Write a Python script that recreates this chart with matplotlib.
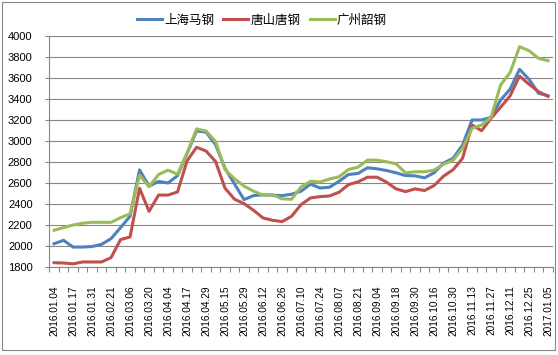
import matplotlib
matplotlib.use("Agg")
import matplotlib.pyplot as plt
import numpy as np
from matplotlib.patches import Rectangle

plt.rcParams['font.family'] = ['Liberation Sans', 'Noto Sans CJK SC', 'DejaVu Sans']

tick_labels = ["2016.01.04", "2016.01.17", "2016.01.31", "2016.02.21", "2016.03.06",
               "2016.03.20", "2016.04.04", "2016.04.17", "2016.04.29", "2016.05.15",
               "2016.05.29", "2016.06.12", "2016.06.26", "2016.07.10", "2016.07.24",
               "2016.08.07", "2016.08.21", "2016.09.04", "2016.09.18", "2016.09.30",
               "2016.10.16", "2016.10.30", "2016.11.13", "2016.11.27", "2016.12.11",
               "2016.12.25", "2017.01.05"]

series_names = ["上海马钢", "唐山唐钢", "广州韶钢"]

shanghai = [2022, 2054, 1990, 1990, 1995, 2016, 2070, 2175, 2283, 2725,
            2570, 2615, 2600, 2670, 2880, 3095, 3085, 2965, 2740, 2590,
            2442, 2480, 2487, 2484, 2480, 2493, 2522, 2589, 2552, 2560,
            2617, 2681, 2691, 2745, 2735, 2719, 2697, 2671, 2668, 2649,
            2697, 2790, 2835, 2962, 3200, 3200, 3225, 3390, 3492, 3683,
            3587, 3454, 3432]

tangshan = [1841, 1838, 1830, 1848, 1848, 1848, 1889, 2061, 2086, 2550,
            2330, 2485, 2485, 2515, 2810, 2940, 2905, 2805, 2550, 2445,
            2404, 2340, 2267, 2245, 2232, 2283, 2394, 2458, 2470, 2477,
            2512, 2585, 2611, 2655, 2655, 2608, 2544, 2518, 2544, 2528,
            2576, 2665, 2726, 2835, 3152, 3098, 3216, 3321, 3429, 3619,
            3540, 3470, 3425]

guangzhou = [2150, 2175, 2200, 2217, 2226, 2225, 2225, 2270, 2306, 2675,
             2565, 2681, 2722, 2684, 2885, 3115, 3095, 2995, 2728, 2640,
             2570, 2522, 2484, 2490, 2449, 2445, 2563, 2617, 2610, 2638,
             2659, 2729, 2751, 2818, 2818, 2802, 2783, 2697, 2707, 2707,
             2722, 2780, 2815, 2930, 3121, 3152, 3225, 3533, 3651, 3898,
             3860, 3787, 3765]

colors = ["#4F81BD", "#C0504D", "#9BBB59"]
grid_c = "#868686"

fig = plt.figure(figsize=(5.58, 3.55), dpi=100)
ax = fig.add_axes([49.3/558, 1-267/355, (552.8-49.3)/558, (267-36)/355])

n = len(shanghai)
x = np.arange(n)
for vals, name, c in zip([shanghai, tangshan, guangzhou], series_names, colors):
    ax.plot(x, vals, color=c, lw=2.2, label=name, solid_joinstyle='round')

ax.set_xlim(-0.5, n - 0.5)
ax.set_ylim(1800, 4000)
ax.set_yticks(np.arange(1800, 4001, 200))
ax.yaxis.grid(True, color=grid_c, lw=0.8)
ax.set_axisbelow(True)

ax.set_xticks(np.arange(0, n, 2))
ax.set_xticklabels(tick_labels, rotation=90, fontsize=7.3)
ax.set_xticks(np.arange(-0.5, n, 1), minor=True)
ax.tick_params(axis='x', which='major', length=0, pad=13)
ax.tick_params(axis='x', which='minor', length=3.5, color=grid_c, width=0.8)
ax.tick_params(axis='y', length=3, color=grid_c, width=0.8, labelsize=8, pad=9)

for s in ['top', 'right']:
    ax.spines[s].set_visible(False)
for s in ['left', 'bottom']:
    ax.spines[s].set_color(grid_c)
    ax.spines[s].set_linewidth(0.8)

leg = fig.legend(loc='center', bbox_to_anchor=(262/558, 1-20.7/355), ncol=3,
                 frameon=False, fontsize=9, handlelength=2.0, handletextpad=0.2,
                 columnspacing=0.7)

fig.patches.append(Rectangle((2/558, 1-350/355), 553/558, 348/355,
                             transform=fig.transFigure, fill=False,
                             edgecolor=grid_c, lw=0.8))

fig.savefig("out.png", dpi=100)
